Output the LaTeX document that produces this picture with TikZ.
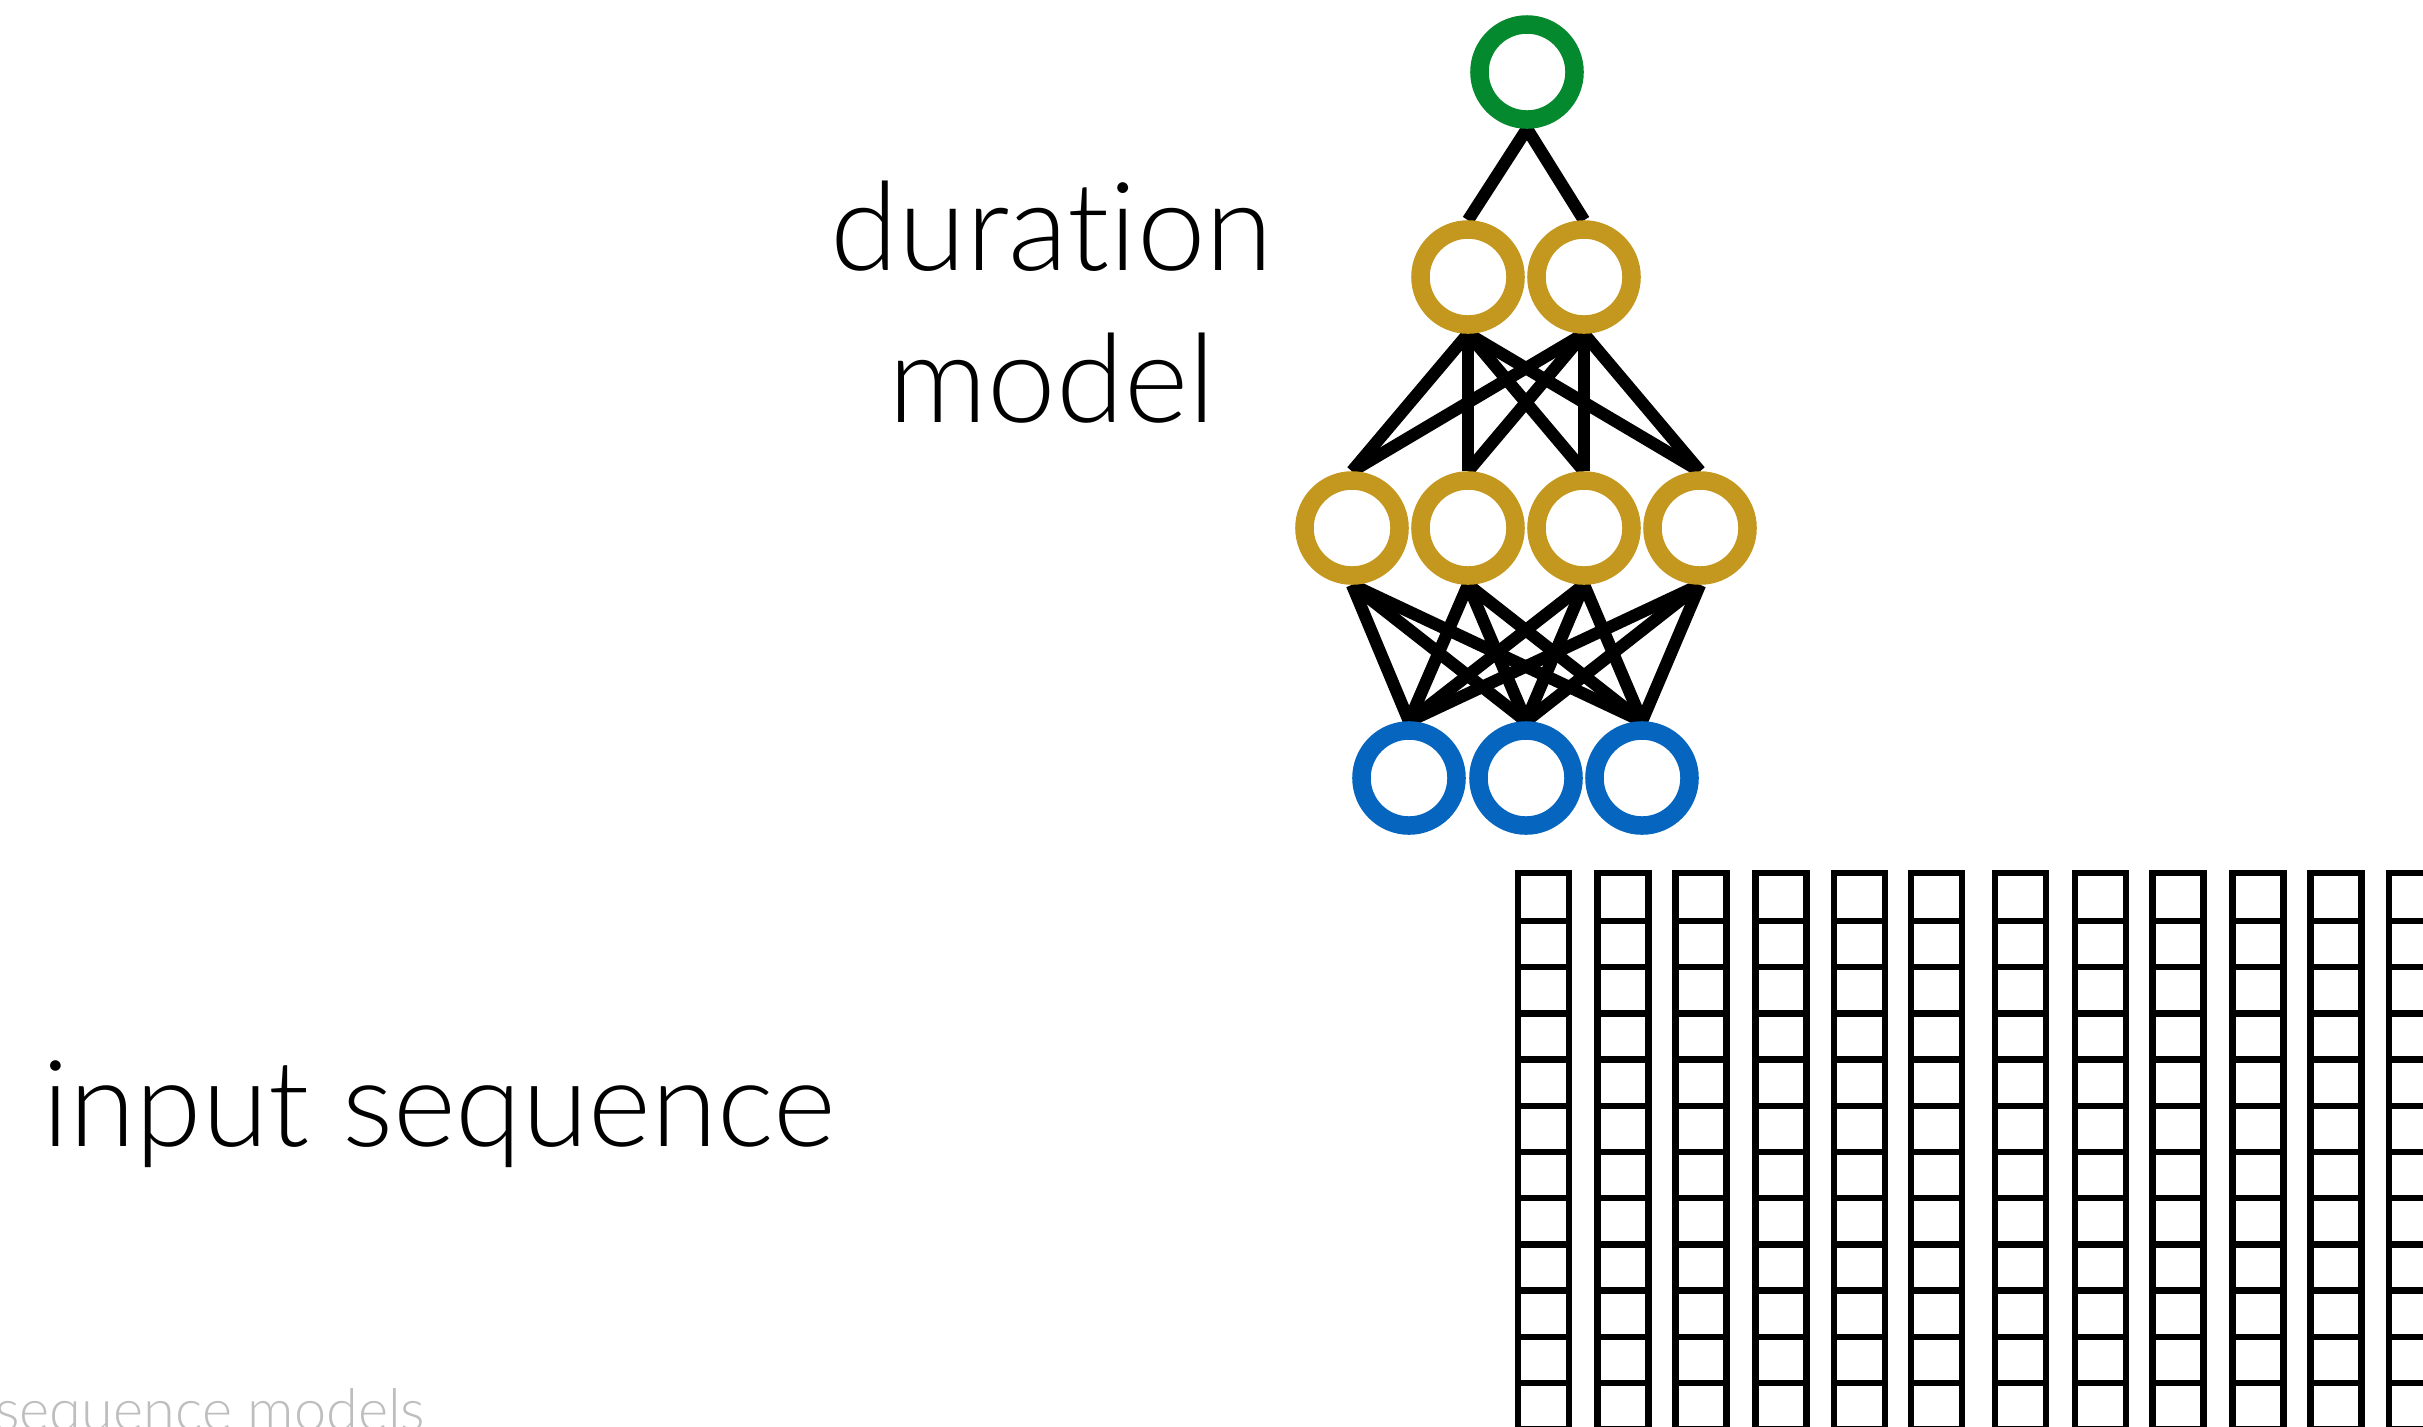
\documentclass[tikz,border=0pt]{standalone}
\usepackage{fontspec}
\setmainfont{Lato}[UprightFont={* Light}, Ligatures={NoCommon}]
\usetikzlibrary{calc}
\pgfdeclarelayer{bg}
\pgfsetlayers{bg,main}
\definecolor{outgreen}{RGB}{4,137,46}
\definecolor{hidgold}{RGB}{196,151,30}
\definecolor{inblue}{RGB}{6,101,190}
\definecolor{capgray}{RGB}{190,190,190}
\tikzset{
  neuron/.style={circle, minimum size=0.95cm, inner sep=0pt, line width=5.26pt, fill=white},
  outn/.style={neuron, draw=outgreen},
  hidn/.style={neuron, draw=hidgold},
  inn/.style={neuron, draw=inblue},
  conn/.style={line width=3.5pt, black},
  cellcol/.style={line width=1.8pt, black},
  bigtext/.style={font=\fontsize{35}{42}\selectfont, inner sep=0pt},
  midtext/.style={font=\fontsize{34.2}{41}\selectfont, inner sep=0pt},
  smalltext/.style={font=\fontsize{16.4}{20}\selectfont, inner sep=0pt, text=capgray}
}
\begin{document}
\begin{tikzpicture}[x=0.01cm, y=-0.01cm]
\useasboundingbox (0,0) rectangle (2423,1426);
\clip (0,0) rectangle (2423,1426);

% network nodes
\node[outn] (o) at (1527,72) {};
\node[hidn] (a1) at (1468,277) {};
\node[hidn] (a2) at (1584,277) {};
\node[hidn] (b1) at (1352,528) {};
\node[hidn] (b2) at (1468,528) {};
\node[hidn] (b3) at (1584,528) {};
\node[hidn] (b4) at (1700,528) {};
\node[inn] (i1) at (1409,778) {};
\node[inn] (i2) at (1526,778) {};
\node[inn] (i3) at (1642,778) {};

\begin{pgfonlayer}{bg}
  \foreach \u in {a1,a2} \draw[conn] (o.south) -- (\u.north);
  \foreach \u in {a1,a2} \foreach \v in {b1,b2,b3,b4} \draw[conn] (\u.south) -- (\v.north);
  \foreach \u in {b1,b2,b3,b4} \foreach \v in {i1,i2,i3} \draw[conn] (\u.south) -- (\v.north);
\end{pgfonlayer}

% labels
\node[bigtext, anchor=base] (dur) at (1052,270) {duration};
\node[bigtext, anchor=base] (mod) at (1052,422) {model};
\node[midtext, anchor=base west] (inp) at (42,1146) {input sequence};
\node[smalltext, anchor=base east] (cap) at (426,1430) {sequence models};

% input sequence grid
\foreach \xl in {1514.9,1594.3,1672.4,1752.4,1830.6,1908.1,1991.7,2071.7,2149.3,2229.2,2307.4,2385.6} {
  \draw[cellcol] (\xl+3.2,1480) -- (\xl+3.2,873.2) -- (\xl+54.2,873.2) -- (\xl+54.2,1480);
  \foreach \k in {0,...,11} \draw[cellcol] (\xl+3.2,921+46.2*\k) -- (\xl+54.2,921+46.2*\k);
}
\end{tikzpicture}
\end{document}
